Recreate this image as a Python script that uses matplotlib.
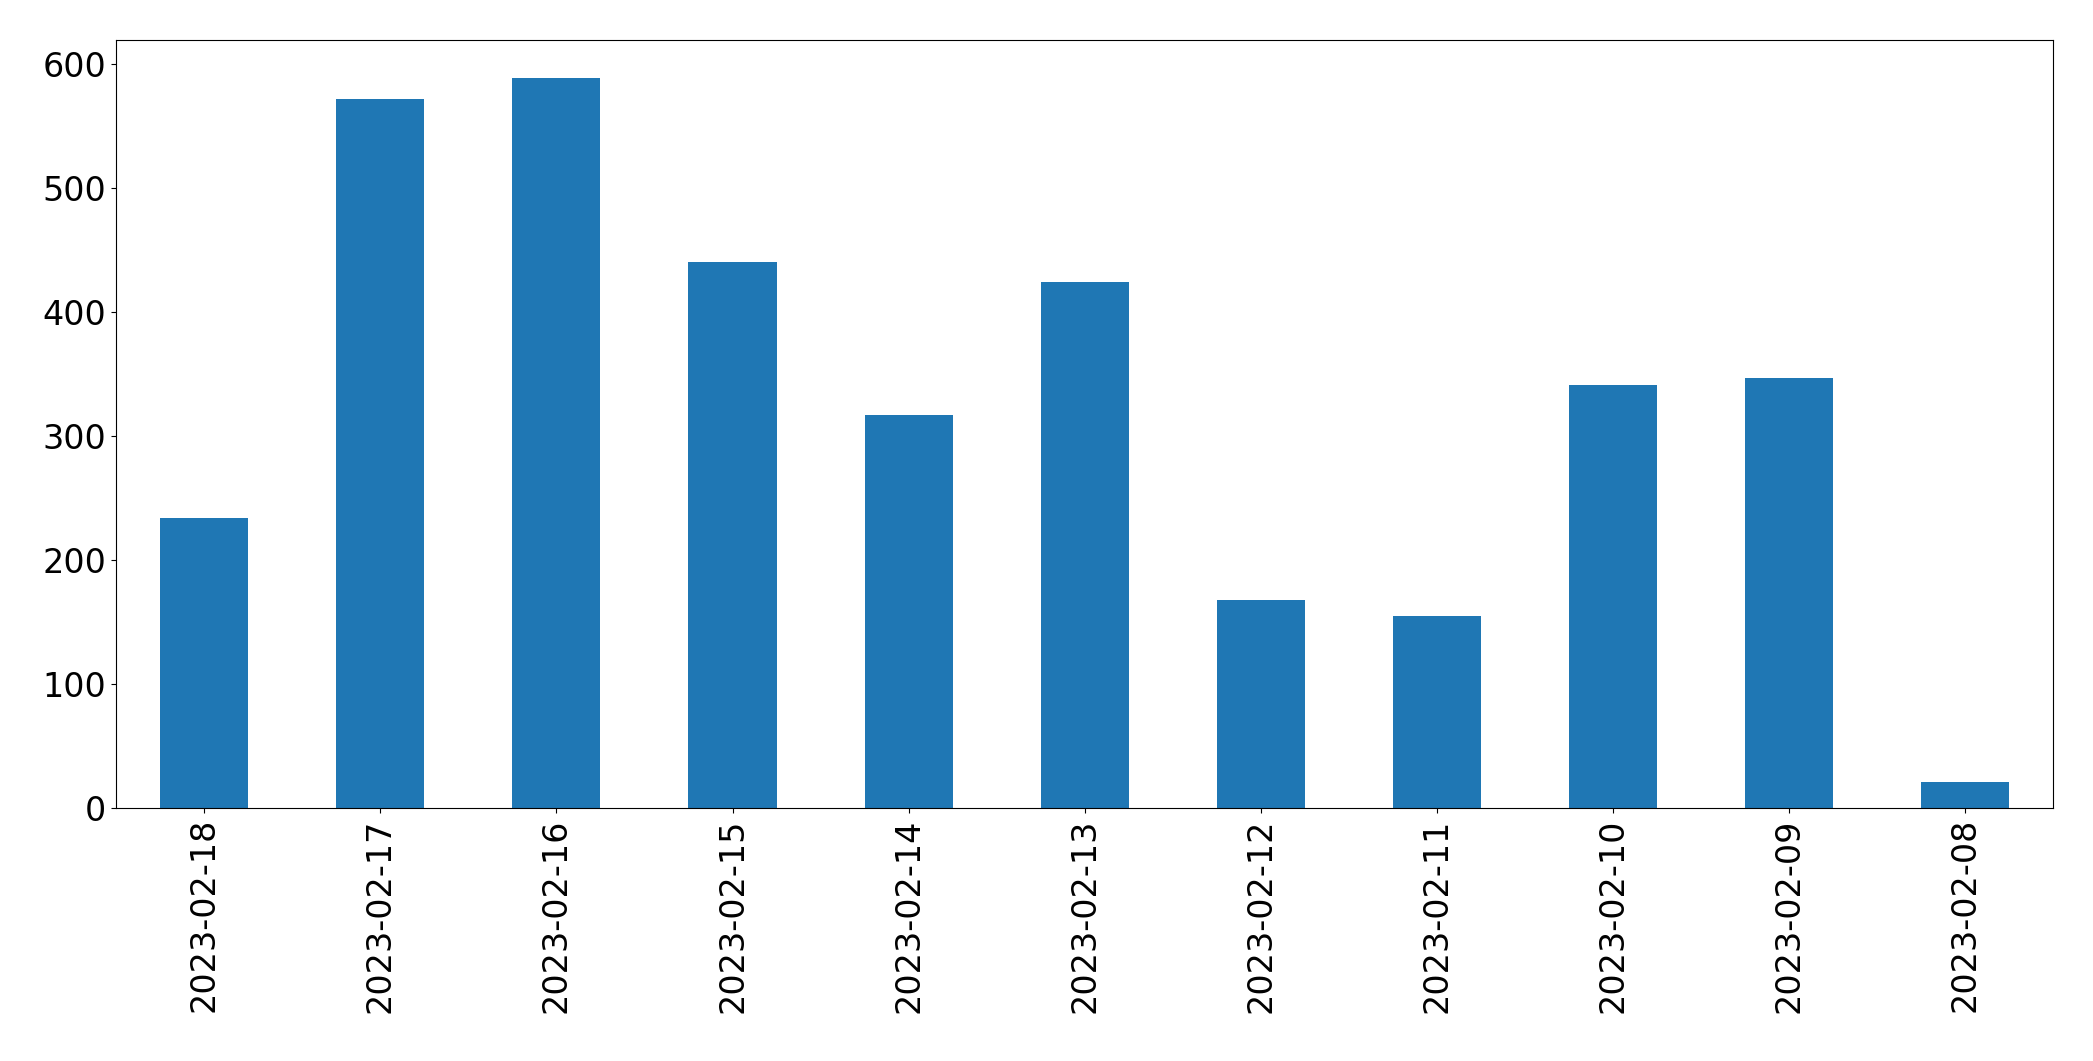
import matplotlib
matplotlib.use("Agg")
import matplotlib.pyplot as plt

dates = ["2023-02-18", "2023-02-17", "2023-02-16", "2023-02-15", "2023-02-14",
         "2023-02-13", "2023-02-12", "2023-02-11", "2023-02-10", "2023-02-09",
         "2023-02-08"]
counts = [234, 572, 589, 440, 317, 424, 168, 155, 341, 347, 21]

fig = plt.figure(figsize=(20.93, 10.61), dpi=100)
ax = fig.add_axes([0.0555, 0.238, 0.9255, 0.724])
x = list(range(len(dates)))
ax.bar(x, counts, width=0.5, color="#1f77b4")
ax.set_xlim(-0.5, len(dates) - 0.5)
ax.set_ylim(0, 619)
ax.set_xticks(x)
ax.set_xticklabels(dates, rotation=90)
ax.tick_params(axis="both", labelsize=24)
fig.savefig("out.png", dpi=100)
